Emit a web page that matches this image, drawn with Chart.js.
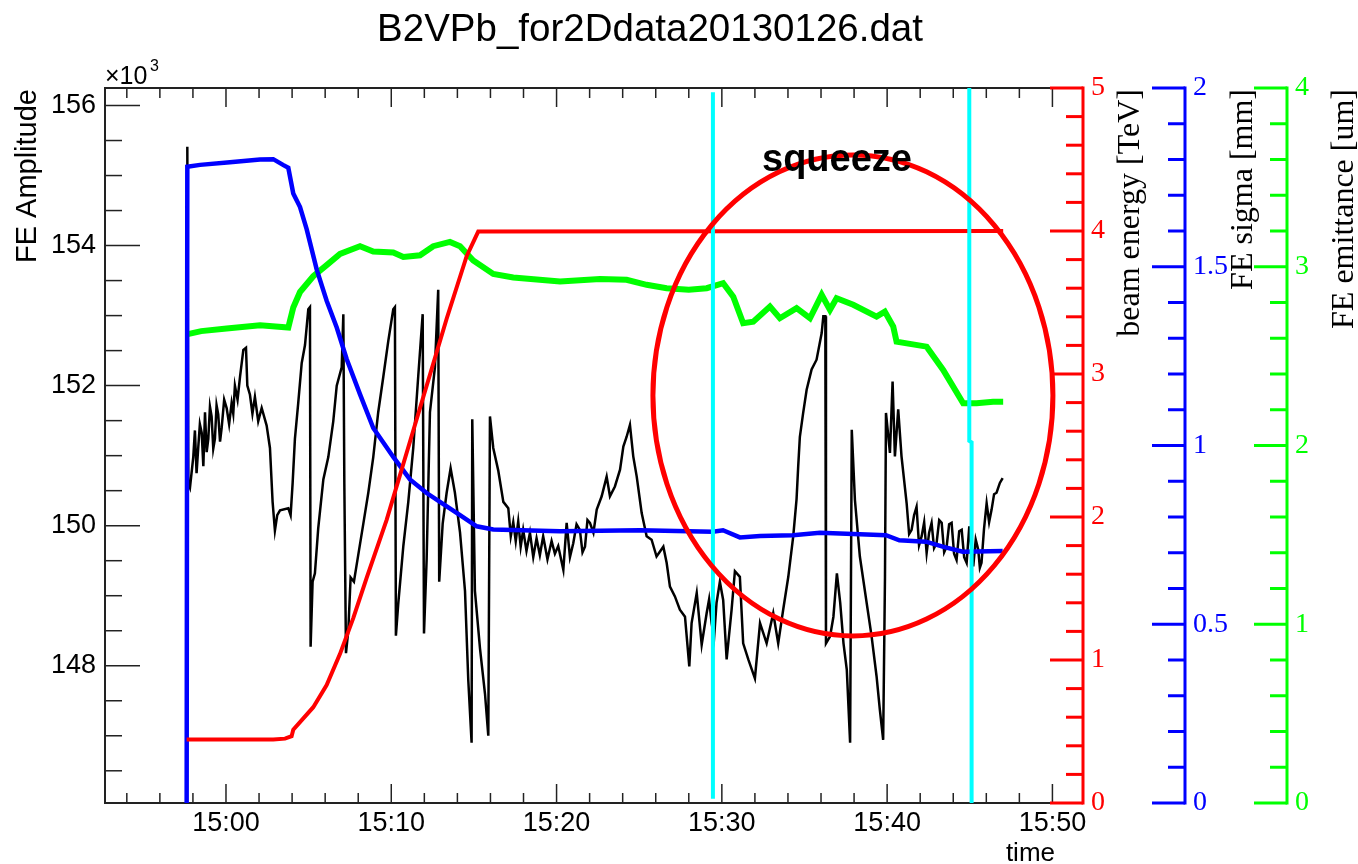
<!DOCTYPE html>
<html>
<head>
<meta charset="utf-8">
<script src="https://cdn.jsdelivr.net/npm/chart.js@4.4.0/dist/chart.umd.min.js"></script>
<style>
  html, body { margin: 0; padding: 0; background: #fff; }
  #c { display: block; }
</style>
</head>
<body>
<canvas id="c" width="1358" height="864"></canvas>
<script>
// [time, value] pairs; time is in minutes after 14:00 (60 = 15:00)
const ampPoints = [
  [57.66, 155.41], [57.72, 150.60], [57.82, 150.54], [58.02, 150.98], [58.12, 151.36], [58.22, 150.75], [58.32, 151.11], [58.42, 151.45], [58.53, 151.33], [58.63, 150.85],
  [58.73, 151.62], [58.83, 151.05], [58.93, 151.24], [59.03, 151.70], [59.13, 151.56], [59.23, 151.10], [59.33, 151.24], [59.43, 151.72], [59.53, 151.59], [59.64, 151.20],
  [59.74, 151.40], [59.89, 151.80], [60.04, 151.68], [60.19, 151.45], [60.34, 151.75], [60.44, 151.60], [60.54, 152.00], [60.70, 151.80], [60.85, 152.13], [61.05, 152.51],
  [61.21, 152.54], [61.29, 152.00], [61.45, 151.87], [61.60, 151.60], [61.75, 151.84], [61.95, 151.49], [62.16, 151.68], [62.46, 151.43], [62.66, 151.11], [62.82, 150.34],
  [62.96, 149.93], [63.10, 150.15], [63.27, 150.22], [63.77, 150.25], [63.91, 150.15], [64.03, 150.60], [64.17, 151.24], [64.37, 151.75], [64.58, 152.32], [64.78, 152.58],
  [64.98, 153.09], [65.08, 153.12], [65.12, 148.27], [65.24, 149.20], [65.38, 149.32], [65.58, 149.96], [65.89, 150.66], [66.19, 150.98], [66.49, 151.49], [66.70, 152.00],
  [67.00, 152.26], [67.10, 153.02], [67.16, 150.60], [67.26, 148.18], [67.40, 148.50], [67.54, 149.26], [67.74, 149.20], [68.00, 149.58], [68.31, 150.03], [68.61, 150.47],
  [68.91, 150.98], [69.21, 151.62], [69.52, 152.13], [69.82, 152.64], [70.12, 153.09], [70.22, 153.12], [70.28, 148.43], [70.42, 148.88], [70.73, 149.71], [71.03, 150.34],
  [71.33, 151.11], [71.63, 152.13], [71.90, 153.02], [71.98, 148.46], [72.14, 149.52], [72.34, 151.62], [72.64, 152.26], [72.84, 153.37], [72.90, 149.20], [73.11, 150.03],
  [73.35, 150.47], [73.59, 150.82], [73.85, 150.47], [74.16, 149.90], [74.46, 149.07], [74.66, 147.79], [74.86, 146.90], [74.90, 151.52], [75.06, 149.07], [75.37, 148.24],
  [75.67, 147.60], [75.87, 147.00], [75.97, 151.56], [76.17, 151.11], [76.47, 150.79], [76.78, 150.34], [77.08, 150.25], [77.23, 149.85], [77.38, 150.05], [77.53, 149.78],
  [77.68, 150.06], [77.83, 149.70], [77.98, 149.94], [78.18, 149.64], [78.39, 149.90], [78.59, 149.55], [78.79, 149.82], [78.99, 149.58], [79.19, 149.85], [79.45, 149.52],
  [79.70, 149.78], [79.90, 149.60], [80.10, 149.71], [80.41, 149.37], [80.61, 150.04], [80.81, 149.55], [81.01, 149.75], [81.21, 150.02], [81.41, 149.94], [81.57, 149.62],
  [81.72, 149.70], [81.87, 150.08], [82.02, 150.04], [82.23, 149.90], [82.43, 150.23], [82.73, 150.42], [83.03, 150.70], [83.23, 150.42], [83.53, 150.56], [83.84, 150.80],
  [84.04, 151.13], [84.24, 151.27], [84.44, 151.44], [84.64, 150.99], [84.85, 150.70], [85.15, 150.18], [85.45, 149.85], [85.75, 149.80], [86.05, 149.56], [86.46, 149.70],
  [86.66, 149.47], [86.86, 149.13], [87.16, 148.99], [87.46, 148.80], [87.77, 148.70], [88.03, 147.99], [88.17, 148.61], [88.48, 149.04], [88.78, 148.30], [89.08, 148.75],
  [89.23, 148.95], [89.38, 148.61], [89.53, 148.40], [89.68, 148.90], [89.88, 149.20], [90.08, 148.94], [90.29, 148.09], [90.59, 148.80], [90.79, 149.35], [91.09, 149.27],
  [91.29, 148.32], [91.60, 148.09], [92.00, 147.82], [92.31, 148.61], [92.71, 148.32], [93.11, 148.75], [93.41, 148.32], [93.71, 148.80], [94.02, 149.27], [94.32, 149.85],
  [94.52, 150.38], [94.62, 150.85], [94.72, 151.27], [94.92, 151.61], [95.13, 151.94], [95.43, 152.23], [95.73, 152.37], [96.04, 152.75], [96.14, 152.99], [96.26, 152.99],
  [96.30, 148.32], [96.55, 148.42], [96.75, 148.70], [96.96, 149.32], [97.16, 148.90], [97.36, 148.32], [97.56, 147.94], [97.76, 146.90], [97.86, 151.37], [98.05, 150.37],
  [98.35, 149.56], [98.76, 148.90], [99.06, 148.42], [99.36, 147.85], [99.56, 147.37], [99.76, 146.94], [99.87, 149.27], [99.93, 151.61], [100.17, 151.04], [100.33, 152.06],
  [100.47, 150.99], [100.67, 151.66], [100.87, 150.99], [101.18, 150.32], [101.33, 149.88], [101.48, 149.94], [101.63, 150.15], [101.78, 150.27], [101.93, 149.72], [102.09, 149.85],
  [102.24, 150.05], [102.39, 149.61], [102.54, 149.90], [102.69, 150.04], [102.84, 149.68], [102.99, 149.75], [103.15, 150.08], [103.30, 150.04], [103.45, 149.62], [103.60, 149.70],
  [103.75, 150.02], [103.90, 150.04], [104.05, 149.60], [104.20, 149.51], [104.36, 149.92], [104.51, 149.94], [104.66, 149.55], [104.81, 149.47], [104.97, 149.99], [105.21, 149.42],
  [105.36, 149.80], [105.51, 149.66], [105.61, 149.40], [105.71, 149.47], [105.86, 149.95], [106.02, 150.32], [106.17, 150.05], [106.32, 150.23], [106.47, 150.45], [106.62, 150.47],
  [106.82, 150.61], [106.99, 150.68]
];

const energyPoints = [
  [57.62, 0.444], [62.86, 0.444], [63.57, 0.45], [63.97, 0.467], [64.07, 0.512], [65.28, 0.67], [66.09, 0.825], [66.90, 1.043], [67.70, 1.293], [68.51, 1.575],
  [69.72, 1.98], [70.93, 2.449], [72.14, 2.918], [73.35, 3.386], [74.56, 3.824], [75.26, 3.996], [107.02, 4.0]
];

const sigmaPoints = [
  [57.62, 0], [57.66, 1.780], [58.43, 1.785], [60.24, 1.792], [62.06, 1.800], [62.86, 1.801], [63.45, 1.785], [63.77, 1.777], [64.07, 1.705], [64.48, 1.667],
  [64.88, 1.605], [65.49, 1.492], [66.09, 1.405], [66.70, 1.330], [67.30, 1.242], [68.11, 1.143], [68.91, 1.049], [70.12, 0.968], [71.13, 0.905], [72.14, 0.867],
  [73.15, 0.836], [74.16, 0.805], [75.17, 0.774], [76.17, 0.765], [80.21, 0.760], [85.05, 0.763], [89.46, 0.759], [90.07, 0.763], [91.09, 0.743], [92.31, 0.747],
  [94.30, 0.749], [95.93, 0.756], [98.35, 0.752], [99.93, 0.749], [100.74, 0.735], [102.35, 0.731], [103.36, 0.717], [104.57, 0.703], [106.99, 0.705]
];

const emittancePoints = [
  [57.62, 2.622], [58.50, 2.640], [60.04, 2.655], [62.06, 2.672], [63.77, 2.660], [64.07, 2.772], [64.48, 2.859], [65.28, 2.947], [66.09, 3.009], [66.90, 3.072],
  [68.11, 3.115], [68.91, 3.085], [70.12, 3.080], [70.73, 3.055], [71.74, 3.064], [72.54, 3.115], [73.55, 3.139], [74.16, 3.115], [74.96, 3.035], [76.17, 2.960],
  [77.38, 2.940], [80.21, 2.917], [82.63, 2.931], [84.24, 2.927], [85.45, 2.899], [86.66, 2.880], [88.00, 2.871], [89.08, 2.880], [90.08, 2.908], [90.69, 2.833],
  [91.29, 2.684], [91.90, 2.693], [92.91, 2.777], [93.51, 2.712], [94.52, 2.768], [95.33, 2.712], [96.04, 2.843], [96.54, 2.759], [96.94, 2.824], [97.95, 2.787],
  [99.36, 2.721], [99.86, 2.749], [100.37, 2.665], [100.57, 2.581], [102.39, 2.553], [103.39, 2.423], [104.60, 2.236], [105.41, 2.236], [106.41, 2.245], [107.02, 2.245]
];

// squeeze markers (cyan), in amplitude units
const cyanLine1 = [[89.46, 156.19], [89.46, 146.10]];
const cyanLine2 = [[104.97, 156.25], [104.97, 151.21], [105.11, 151.19], [105.11, 146.04]];

// ellipse around the squeeze: centre (time, amplitude) and half axes
const ellipseCentre = [97.93, 151.86];
const ellipseHalf = [12.10, 3.434];

const xTickLabels = [60, 70, 80, 90, 100, 110];
const ampTicks = [148, 150, 152, 154, 156];
const energyTicks = [0, 1, 2, 3, 4, 5];
const sigmaTicks = [0, 0.5, 1, 1.5, 2];
const emitTicks = [0, 1, 2, 3, 4];

const SANS = '"Liberation Sans", Arial, sans-serif';
const SERIF = '"Liberation Serif", "Times New Roman", serif';

const pts = pairs => pairs.map(p => ({ x: p[0], y: p[1] }));
const fmtTime = v => (14 + Math.floor(v / 60)) + ':' + String(Math.round(v % 60)).padStart(2, '0');

function line(ctx, x1, y1, x2, y2) {
  ctx.beginPath();
  ctx.moveTo(x1, y1);
  ctx.lineTo(x2, y2);
  ctx.stroke();
}

function rightAxis(color, max, weight, width, majors) {
  return {
    type: 'linear', position: 'right', weight: weight, min: 0, max: max,
    afterBuildTicks: s => { s.ticks = majors.map(v => ({ value: v })); },
    afterFit: s => { s.width = width; },
    grid: { display: false, drawTicks: false },
    border: { display: false },
    ticks: { color: color, padding: 8, autoSkip: false, font: { family: SERIF, size: 28 }, callback: v => String(v) }
  };
}

// ROOT-like axes: inward ticks, frame, extra right axes
const rootAxes = {
  id: 'rootAxes',
  beforeDatasetsDraw(chart) {
    const { ctx, chartArea: a, scales } = chart;
    ctx.save();
    ctx.strokeStyle = '#222';
    ctx.lineWidth = 2;
    ctx.beginPath();
    ctx.moveTo(a.right, a.top);
    ctx.lineTo(a.left, a.top);
    ctx.lineTo(a.left, a.bottom);
    ctx.lineTo(a.right, a.bottom);
    ctx.stroke();
    ctx.lineWidth = 1.5;
    for (let v = 54; v <= scales.x.max; v += 2) {
      const px = scales.x.getPixelForValue(v);
      const len = v % 10 === 0 ? 19 : 10;
      line(ctx, px, a.bottom, px, a.bottom - len);
      line(ctx, px, a.top, px, a.top + len);
    }
    for (let k = 0; k < 20; k++) {
      const v = 146.5 + 0.5 * k;
      const py = scales.y.getPixelForValue(v);
      const len = Math.abs(v / 2 - Math.round(v / 2)) < 1e-6 ? 35 : 17;
      line(ctx, a.left, py, a.left + len, py);
    }
    ctx.restore();
  },
  afterDatasetsDraw(chart) {
    const { ctx, chartArea: a, scales } = chart;
    ctx.save();
    const axes = [
      { s: scales.yE, color: '#ff0000', major: 1, minor: 0.2 },
      { s: scales.yS, color: '#0000ff', major: 0.5, minor: 0.1 },
      { s: scales.yM, color: '#00ff00', major: 1, minor: 0.2 }
    ];
    ctx.lineWidth = 3;
    for (const ax of axes) {
      const x0 = ax.s.left;
      ctx.strokeStyle = ax.color;
      line(ctx, x0, a.top - 1.5, x0, a.bottom + 1.5);
      const n = Math.round(ax.s.max / ax.minor);
      for (let k = 0; k <= n; k++) {
        const py = ax.s.getPixelForValue(k * ax.minor);
        const isMajor = k % Math.round(ax.major / ax.minor) === 0;
        line(ctx, x0, py, x0 - (isMajor ? 33 : 17), py);
      }
    }

    // ellipse marking the squeeze
    const cx = scales.x.getPixelForValue(ellipseCentre[0]);
    const cy = scales.y.getPixelForValue(ellipseCentre[1]);
    const rx = scales.x.getPixelForValue(ellipseCentre[0] + ellipseHalf[0]) - cx;
    const ry = cy - scales.y.getPixelForValue(ellipseCentre[1] + ellipseHalf[1]);
    ctx.strokeStyle = '#ff0000';
    ctx.lineWidth = 5;
    ctx.beginPath();
    ctx.ellipse(cx, cy, rx, ry, 0, 0, Math.PI * 2);
    ctx.stroke();
    ctx.restore();
  },
  afterDraw(chart) {
    const ctx = chart.ctx;
    ctx.save();
    ctx.fillStyle = '#000';
    ctx.textBaseline = 'alphabetic';

    ctx.font = '38.5px ' + SANS;
    ctx.textAlign = 'center';
    ctx.fillText('B2VPb_for2Ddata20130126.dat', 650, 41);

    ctx.textAlign = 'left';
    ctx.font = '25px ' + SANS;
    ctx.fillText('\u00d710', 105, 84);
    ctx.font = '16px ' + SANS;
    ctx.fillText('3', 150, 71);

    ctx.font = 'bold 38px ' + SANS;
    ctx.fillText('squeeze', 762, 171);

    ctx.font = '26px ' + SANS;
    ctx.textAlign = 'right';
    ctx.fillText('time', 1055, 861);

    const vTitle = (text, x, font) => {
      ctx.save();
      ctx.translate(x, 89);
      ctx.rotate(-Math.PI / 2);
      ctx.font = font;
      ctx.textAlign = 'right';
      ctx.fillText(text, 0, 0);
      ctx.restore();
    };
    vTitle('FE Amplitude', 36, '29px ' + SANS);
    vTitle('beam energy [TeV]', 1139, '32px ' + SERIF);
    vTitle('FE sigma [mm]', 1252, '32px ' + SERIF);
    vTitle('FE emittance [um]', 1353, '32px ' + SERIF);
    ctx.restore();
  }
};

const lineSet = (data, color, width, axis, order) => ({
  data: data, borderColor: color, borderWidth: width, yAxisID: axis, order: order,
  pointRadius: 0, tension: 0, fill: false
});

new Chart(document.getElementById('c'), {
  type: 'line',
  data: {
    datasets: [
      lineSet(pts(cyanLine1), '#00ffff', 4, 'y', 1),
      lineSet(pts(cyanLine2), '#00ffff', 4, 'y', 1),
      lineSet(pts(energyPoints), '#ff0000', 4, 'yE', 2),
      lineSet(pts(sigmaPoints), '#0000ff', 4.5, 'yS', 3),
      lineSet(pts(emittancePoints), '#00ff00', 6, 'yM', 4),
      lineSet(pts(ampPoints), '#000000', 2.5, 'y', 5)
    ]
  },
  options: {
    responsive: false,
    animation: false,
    devicePixelRatio: 1,
    layout: { padding: { top: 88, left: 0, right: 0, bottom: 0 } },
    plugins: { legend: { display: false }, tooltip: { enabled: false }, title: { display: false } },
    scales: {
      x: {
        type: 'linear', position: 'bottom', min: 52.68, max: 111.85,
        afterBuildTicks: s => { s.ticks = xTickLabels.map(v => ({ value: v })); },
        afterFit: s => { s.height = 61; },
        grid: { display: false, drawTicks: false },
        border: { display: false },
        ticks: { color: '#000', padding: 4, maxRotation: 0, autoSkip: false, font: { family: SANS, size: 27 }, callback: v => fmtTime(v) }
      },
      y: {
        type: 'linear', position: 'left', min: 146.04, max: 156.25,
        afterBuildTicks: s => { s.ticks = ampTicks.map(v => ({ value: v })); },
        afterFit: s => { s.width = 105; },
        grid: { display: false, drawTicks: false },
        border: { display: false },
        ticks: { color: '#000', padding: 9, autoSkip: false, font: { family: SANS, size: 27 }, callback: v => String(v) }
      },
      yE: rightAxis('#ff0000', 5, 1, 102, energyTicks),
      yS: rightAxis('#0000ff', 2, 2, 102, sigmaTicks),
      yM: rightAxis('#00ff00', 4, 3, 71, emitTicks)
    }
  },
  plugins: [rootAxes]
});
</script>
</body>
</html>
